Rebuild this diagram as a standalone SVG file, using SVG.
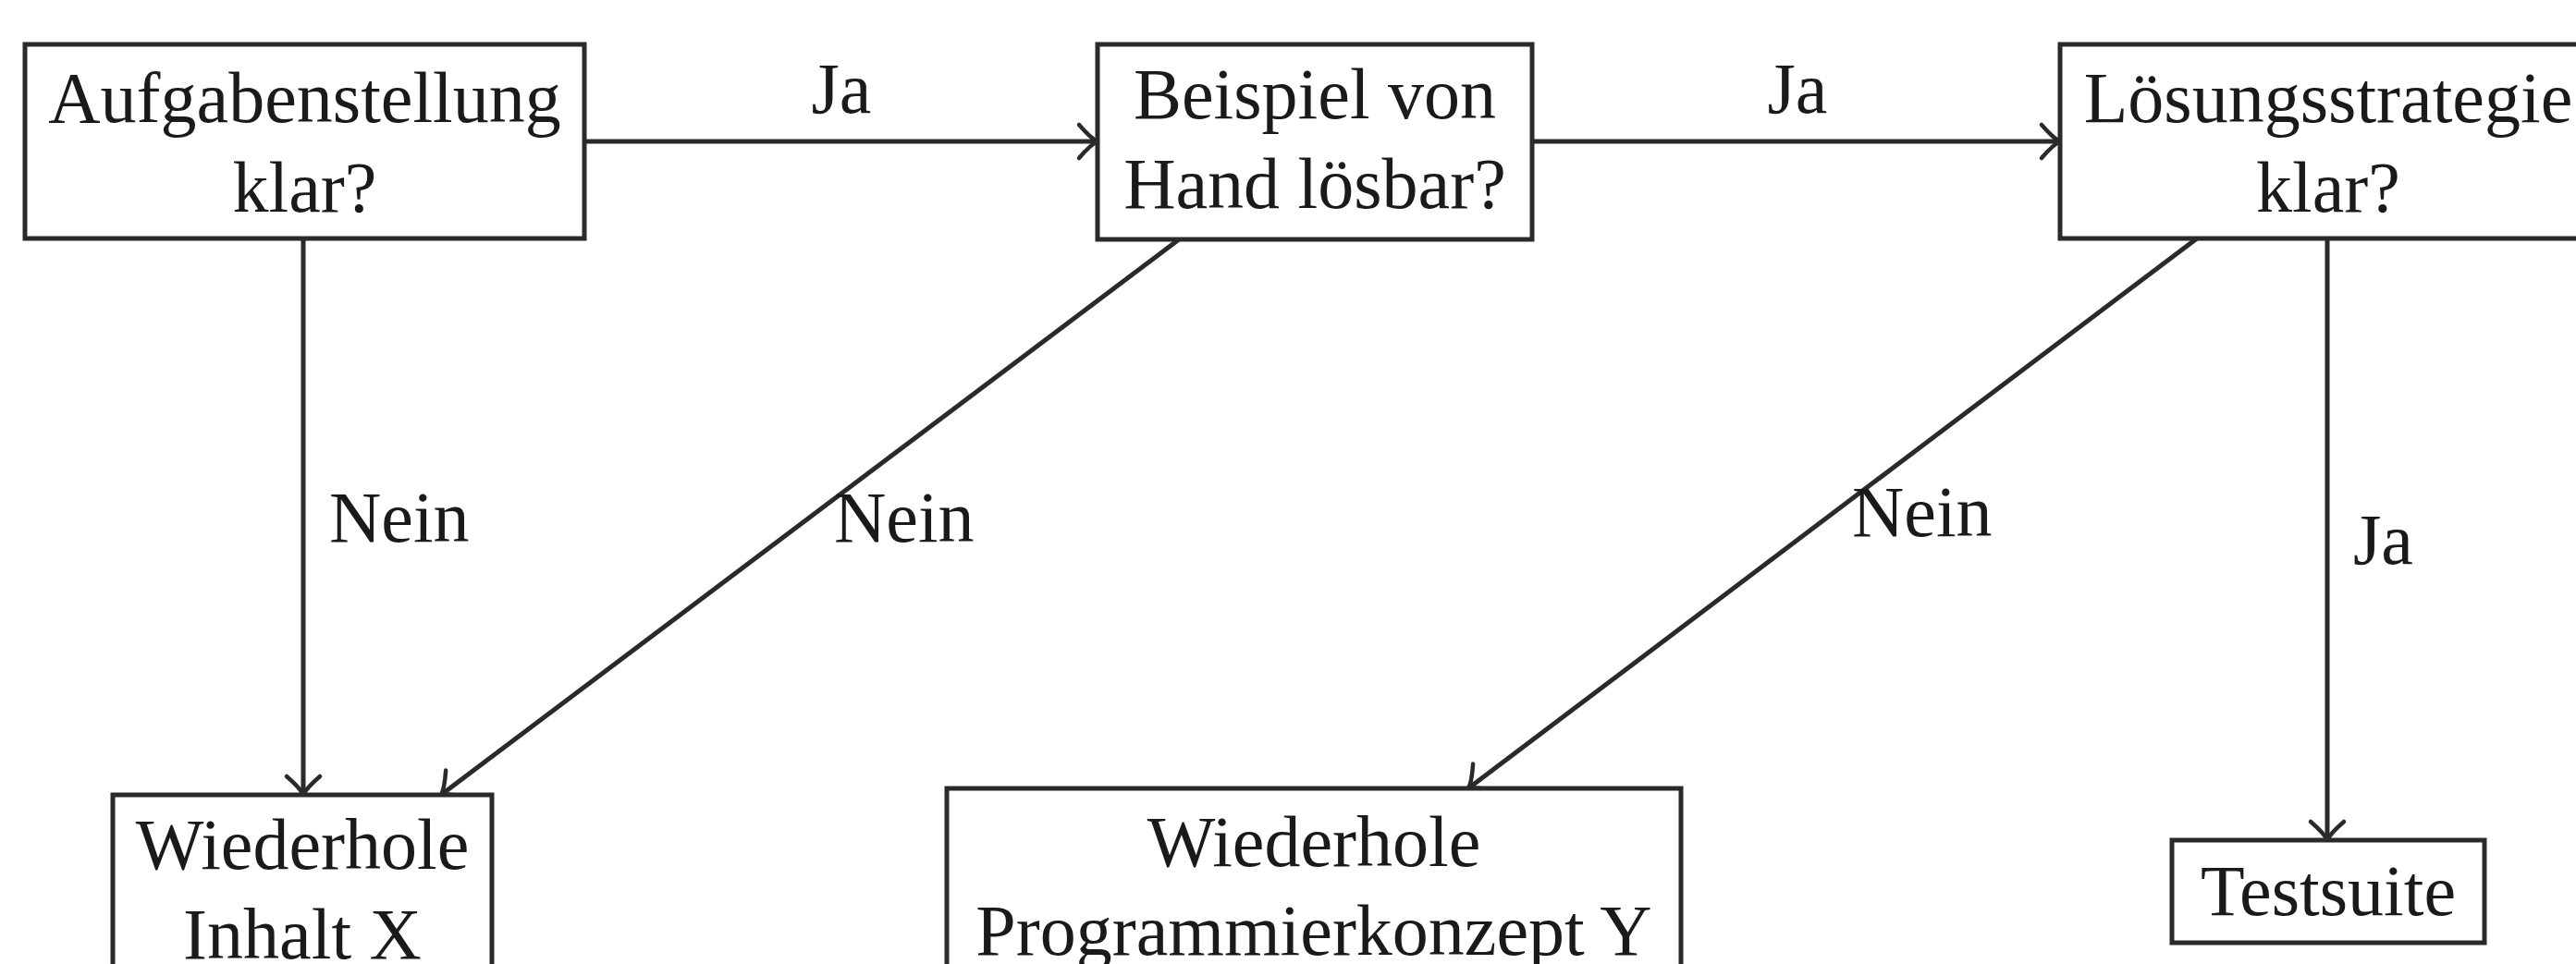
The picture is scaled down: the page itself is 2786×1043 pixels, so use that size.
<svg xmlns="http://www.w3.org/2000/svg" width="2786" height="1043" viewBox="0 0 2786 1043">
  <style>
    .box { fill: #ffffff; stroke: #2a2a2a; stroke-width: 5; }
    .edge { fill: none; stroke: #2a2a2a; stroke-width: 5; }
    .t { font-family: "Liberation Serif", "Times New Roman", serif; font-size: 78px; fill: #1a1a1a; text-anchor: middle; }
    .lbl { font-family: "Liberation Serif", "Times New Roman", serif; font-size: 78px; fill: #1a1a1a; }
  </style>
  <defs>
    <marker id="arr" markerUnits="userSpaceOnUse" markerWidth="50" markerHeight="50" viewBox="-25 -25 50 50" refX="0" refY="0" orient="auto">
      <path d="M-20,-18 Q-7,-3 0,0 Q-7,3 -20,18" fill="none" stroke="#2a2a2a" stroke-width="4.5" stroke-linecap="round"/>
    </marker>
  </defs>
  <rect width="2786" height="1043" fill="#ffffff"/>

  <g id="connectors">
    <line class="edge" x1="632" y1="153" x2="1187" y2="153" marker-end="url(#arr)"/>
    <line class="edge" x1="1657" y1="153" x2="2228" y2="153" marker-end="url(#arr)"/>
    <line class="edge" x1="328" y1="258" x2="328" y2="860" marker-end="url(#arr)"/>
    <line class="edge" x1="1275" y1="259" x2="477" y2="860" marker-end="url(#arr)"/>
    <line class="edge" x1="2376" y1="258" x2="1588" y2="853" marker-end="url(#arr)"/>
    <line class="edge" x1="2517" y1="258" x2="2517" y2="909" marker-end="url(#arr)"/>
    <text class="lbl" x="910" y="122" text-anchor="middle">Ja</text>
    <text class="lbl" x="1944" y="122" text-anchor="middle">Ja</text>
    <text class="lbl" x="356" y="586">Nein</text>
    <text class="lbl" x="902" y="586">Nein</text>
    <text class="lbl" x="2003" y="580">Nein</text>
    <text class="lbl" x="2545" y="610">Ja</text>
  </g>

  <g id="n-aufgabe">
    <rect class="box" x="27" y="48" width="605" height="210"/>
    <text class="t" x="329.5" y="132">Aufgabenstellung</text>
    <text class="t" x="329.5" y="229">klar?</text>
  </g>
  <g id="n-beispiel">
    <rect class="box" x="1187" y="48" width="470" height="211"/>
    <text class="t" x="1422" y="128">Beispiel von</text>
    <text class="t" x="1422" y="225">Hand lösbar?</text>
  </g>
  <g id="n-strategie">
    <rect class="box" x="2228" y="48" width="580" height="210"/>
    <text class="t" x="2518" y="132">Lösungsstrategie</text>
    <text class="t" x="2518" y="229">klar?</text>
  </g>
  <g id="n-inhalt">
    <rect class="box" x="122" y="860" width="410" height="210"/>
    <text class="t" x="327" y="940">Wiederhole</text>
    <text class="t" x="327" y="1037">Inhalt X</text>
  </g>
  <g id="n-konzept">
    <rect class="box" x="1024" y="853" width="794" height="210"/>
    <text class="t" x="1421" y="937">Wiederhole</text>
    <text class="t" x="1421" y="1033">Programmierkonzept Y</text>
  </g>
  <g id="n-testsuite">
    <rect class="box" x="2349" y="909" width="338" height="111"/>
    <text class="t" x="2518" y="990">Testsuite</text>
  </g>
</svg>
